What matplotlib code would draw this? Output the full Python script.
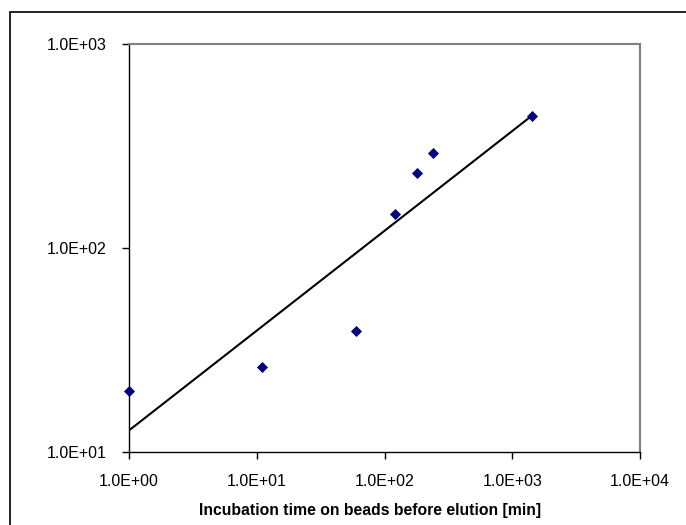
import numpy as np
import matplotlib
matplotlib.use("Agg")
import matplotlib.pyplot as plt
from matplotlib.ticker import FixedLocator, FuncFormatter, NullLocator
from matplotlib.patches import Rectangle

# incubation time [min] vs signal
time_min = [1, 11, 60, 120, 180, 240, 1440]
signal = [20, 26, 39, 146, 233, 291, 444]

x_ticks = [1e0, 1e1, 1e2, 1e3, 1e4]
y_ticks = [1e1, 1e2, 1e3]
x_title = "Incubation time on beads before elution [min]"

plt.rcParams['font.family'] = ['Liberation Sans', 'DejaVu Sans']

fig = plt.figure(figsize=(6.86, 5.25), dpi=100)
ax = fig.add_axes([129 / 686, 1 - 452 / 525, (640 - 129) / 686, (452 - 44) / 525])

# figure frame (only top/left edge visible in the crop)
fig.patches.append(Rectangle((10 / 686, -0.5), 3.0, 1 - 12 / 525 + 0.5,
                             transform=fig.transFigure, fill=False,
                             edgecolor='black', linewidth=1.2))

ax.scatter(time_min, signal, marker='D', s=32, color='#000080', zorder=3,
           linewidths=0, clip_on=False)

# power trendline fitted in log-log space
lx = np.log10(time_min)
ly = np.log10(signal)
slope, icpt = np.polyfit(lx, ly, 1)
xs = np.logspace(lx.min(), lx.max(), 50)
ax.plot(xs, 10 ** (icpt + slope * np.log10(xs)), color='black', linewidth=1.5,
        zorder=2)

ax.set_xscale('log')
ax.set_yscale('log')
ax.set_xlim(1, 1e4)
ax.set_ylim(10, 1e3)

fmt = FuncFormatter(lambda v, p: "%.1E" % v)
ax.xaxis.set_major_locator(FixedLocator(x_ticks))
ax.yaxis.set_major_locator(FixedLocator(y_ticks))
ax.xaxis.set_minor_locator(NullLocator())
ax.yaxis.set_minor_locator(NullLocator())
ax.xaxis.set_major_formatter(fmt)
ax.yaxis.set_major_formatter(fmt)
ax.tick_params(axis='both', which='major', direction='out', length=5,
               width=1, color='black', labelsize=11.5, pad=11)

for s in ['top', 'right']:
    ax.spines[s].set_color('#808080')
    ax.spines[s].set_linewidth(1.5)
for s in ['left', 'bottom']:
    ax.spines[s].set_color('black')
    ax.spines[s].set_linewidth(1)

ax.set_xlabel(x_title, fontsize=11.3, fontweight='bold')
ax.xaxis.set_label_coords(0.4716, -0.124)

fig.savefig("out.png", dpi=100)
